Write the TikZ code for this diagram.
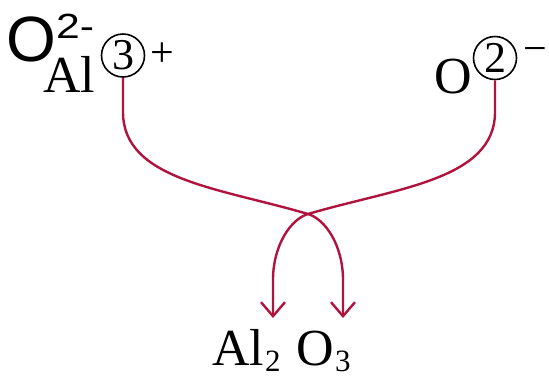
\documentclass[tikz,border=0pt]{standalone}
\usepackage{fontspec}
\usepackage{graphicx}
\setmainfont{Liberation Serif}
\newfontfamily\arialfont{Liberation Sans}
\usetikzlibrary{arrows.meta}
\definecolor{arrowred}{RGB}{176,20,62}
\begin{document}
\begin{tikzpicture}[x=1pt,y=-1pt,
  txt/.style={anchor=base west,inner sep=0pt,font=\fontsize{52}{60}\selectfont},
  subtxt/.style={anchor=base west,inner sep=0pt,font=\fontsize{31}{36}\selectfont},
  ring/.style={circle,draw,line width=1.6pt,minimum size=43pt,inner sep=0pt,font=\fontsize{44}{48}\selectfont},
  flow/.style={draw=arrowred,line width=2.4pt,-{Straight Barb[length=14pt,width=24pt,line width=2.4pt]}}]
\useasboundingbox (0,0) rectangle (549,376);
% top-left label
\node[anchor=base west,inner sep=0pt,font=\arialfont\fontsize{64}{70}\selectfont] (obig) at (6,61) {O};
\node[anchor=base west,inner sep=0pt,font=\arialfont\fontsize{35}{40}\selectfont] (obigsup) at (56,38) {\scalebox{1.22}[1]{2-}};
% Al 3+
\node[txt] (al) at (43,92) {Al};
\node[ring] (c3) at (123,55.5) {3};
\node[inner sep=0pt,font=\fontsize{42}{48}\selectfont] (plus) at (162,55) {+};
% O 2-
\node[txt] (o) at (434,93) {O};
\node[ring] (c2) at (495,58) {2};
\node[inner sep=0pt,font=\fontsize{42}{48}\selectfont] (minus) at (535,55) {\symbol{"2212}};
% Al2O3
\node[txt] (al2) at (212,365) {Al};
\node[subtxt] (two) at (265,371) {2};
\node[txt] (o3) at (296,365) {O};
\node[subtxt] (three) at (335,371) {3};
% arrow ends
\coordinate (endA) at (343,318);
\coordinate (endB) at (273,318);
\coordinate (cross) at (308,214);
% connectors
\draw[flow] (c3.south) -- (123,112) .. controls (123,180) and (220,188) .. (cross)
  .. controls (325,219) and (343,245) .. (343,280) -- (endA);
\draw[flow] (c2.south) -- (495,112) .. controls (495,180) and (396,188) .. (cross)
  .. controls (291,219) and (273,245) .. (273,280) -- (endB);
\end{tikzpicture}
\end{document}
